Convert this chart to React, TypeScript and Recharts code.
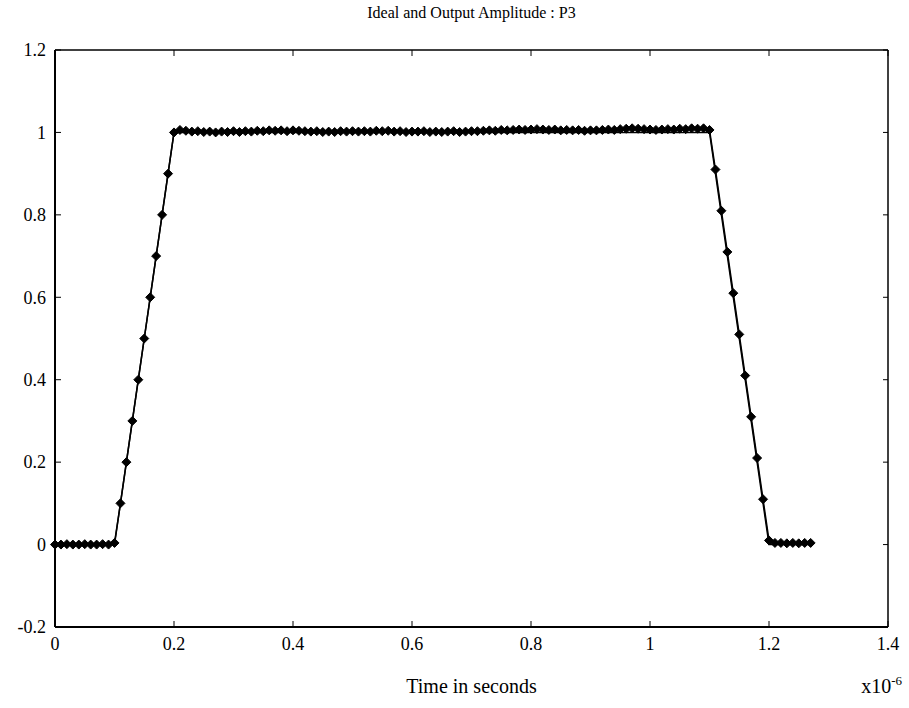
import React from "react";
import { LineChart, Line, XAxis, YAxis } from "recharts";

// time in units of 1e-6 s
const time = [
  0, 0.01, 0.02, 0.03, 0.04, 0.05, 0.06, 0.07, 0.08, 0.09,
  0.1, 0.11, 0.12, 0.13, 0.14, 0.15, 0.16, 0.17, 0.18, 0.19,
  0.2, 0.21, 0.22, 0.23, 0.24, 0.25, 0.26, 0.27, 0.28, 0.29,
  0.3, 0.31, 0.32, 0.33, 0.34, 0.35, 0.36, 0.37, 0.38, 0.39,
  0.4, 0.41, 0.42, 0.43, 0.44, 0.45, 0.46, 0.47, 0.48, 0.49,
  0.5, 0.51, 0.52, 0.53, 0.54, 0.55, 0.56, 0.57, 0.58, 0.59,
  0.6, 0.61, 0.62, 0.63, 0.64, 0.65, 0.66, 0.67, 0.68, 0.69,
  0.7, 0.71, 0.72, 0.73, 0.74, 0.75, 0.76, 0.77, 0.78, 0.79,
  0.8, 0.81, 0.82, 0.83, 0.84, 0.85, 0.86, 0.87, 0.88, 0.89,
  0.9, 0.91, 0.92, 0.93, 0.94, 0.95, 0.96, 0.97, 0.98, 0.99,
  1.0, 1.01, 1.02, 1.03, 1.04, 1.05, 1.06, 1.07, 1.08, 1.09,
  1.1, 1.11, 1.12, 1.13, 1.14, 1.15, 1.16, 1.17, 1.18, 1.19,
  1.2, 1.21, 1.22, 1.23, 1.24, 1.25, 1.26, 1.27,
];

const ideal = [
  0, 0, 0, 0, 0, 0, 0, 0, 0, 0,
  0, 0.1, 0.2, 0.3, 0.4, 0.5, 0.6, 0.7, 0.8, 0.9,
  1, 1, 1, 1, 1, 1, 1, 1, 1, 1,
  1, 1, 1, 1, 1, 1, 1, 1, 1, 1,
  1, 1, 1, 1, 1, 1, 1, 1, 1, 1,
  1, 1, 1, 1, 1, 1, 1, 1, 1, 1,
  1, 1, 1, 1, 1, 1, 1, 1, 1, 1,
  1, 1, 1, 1, 1, 1, 1, 1, 1, 1,
  1, 1, 1, 1, 1, 1, 1, 1, 1, 1,
  1, 1, 1, 1, 1, 1, 1, 1, 1, 1,
  1, 1, 1, 1, 1, 1, 1, 1, 1, 1,
  1, 0.9, 0.8, 0.7, 0.6, 0.5, 0.4, 0.3, 0.2, 0.1,
  0, 0, 0, 0, 0, 0, 0, 0,
];

const output = [
  0, 0, 0.001, 0, 0, 0.001, 0, 0, 0.001, 0,
  0.004, 0.1, 0.2, 0.3, 0.4, 0.5, 0.6, 0.7, 0.8, 0.9,
  1.0, 1.006, 1.004, 1.002, 1.003, 1.001, 1.002, 1.0, 1.002, 1.001,
  1.003, 1.001, 1.003, 1.002, 1.004, 1.003, 1.005, 1.004, 1.005, 1.003,
  1.005, 1.004, 1.003, 1.002, 1.003, 1.001, 1.002, 1.001, 1.003, 1.002,
  1.003, 1.002, 1.003, 1.002, 1.004, 1.003, 1.004, 1.002, 1.003, 1.001,
  1.002, 1.002, 1.003, 1.001, 1.002, 1.001, 1.002, 1.003, 1.001, 1.002,
  1.003, 1.003, 1.004, 1.005, 1.004, 1.006, 1.005, 1.006, 1.007, 1.006,
  1.007, 1.008, 1.007, 1.006, 1.007, 1.005, 1.006, 1.005, 1.006, 1.004,
  1.005, 1.005, 1.006, 1.007, 1.006, 1.008, 1.009, 1.01, 1.009, 1.008,
  1.007, 1.006, 1.007, 1.008, 1.007, 1.009, 1.008, 1.01, 1.009, 1.01,
  1.006, 0.91, 0.81, 0.71, 0.61, 0.51, 0.41, 0.31, 0.21, 0.11,
  0.01, 0.004, 0.004, 0.003, 0.004, 0.003, 0.004, 0.004,
];

const xTicks = [0, 0.2, 0.4, 0.6, 0.8, 1, 1.2, 1.4];
const yTicks = [-0.2, 0, 0.2, 0.4, 0.6, 0.8, 1, 1.2];

const data = time.map((t, i) => ({ t, ideal: ideal[i], output: output[i] }));

const FONT = "'Liberation Serif', 'DejaVu Serif', serif";
const TICK_GAP = 9; // gap between axis line and label
const TICK_LEN = 6; // inward tick length

const fmt = (v: number) => String(Math.round(v * 10) / 10);

// bottom axis: label below, short tick pointing up into the plot
const BottomTick = (props: any) => {
  const { x, y, payload } = props;
  const axisY = y - TICK_GAP;
  return (
    <g>
      <line x1={x} x2={x} y1={axisY} y2={axisY - TICK_LEN} stroke="#000" strokeWidth={1} />
      <text x={x} y={y} dy="0.75em" textAnchor="middle" fill="#000" fontSize={18} fontFamily={FONT}>
        {fmt(payload.value)}
      </text>
    </g>
  );
};

// left axis: label to the left, tick pointing right into the plot
const LeftTick = (props: any) => {
  const { x, y, payload } = props;
  const axisX = x + TICK_GAP;
  return (
    <g>
      <line x1={axisX} x2={axisX + TICK_LEN} y1={y} y2={y} stroke="#000" strokeWidth={1} />
      <text x={x} y={y} dy="0.35em" textAnchor="end" fill="#000" fontSize={18} fontFamily={FONT}>
        {fmt(payload.value)}
      </text>
    </g>
  );
};

// top and right frame axes: tick only
const TopTick = (props: any) => {
  const { x, y } = props;
  return <line x1={x} x2={x} y1={y} y2={y + TICK_LEN} stroke="#000" strokeWidth={1} />;
};
const RightTick = (props: any) => {
  const { x, y } = props;
  return <line x1={x} x2={x - 5} y1={y} y2={y} stroke="#000" strokeWidth={1} />;
};

const Diamond = (props: any) => {
  const { cx, cy } = props;
  if (cx == null || cy == null) return null;
  const r = 4.5;
  return (
    <path
      d={`M${cx},${cy - r}L${cx + r},${cy}L${cx},${cy + r}L${cx - r},${cy}Z`}
      fill="#000"
      stroke="#000"
      strokeWidth={1}
    />
  );
};

export default function App() {
  return (
    <div style={{ position: "absolute", left: 0, top: 0, width: 909, height: 708, background: "#fff" }}>
      <div
        style={{
          position: "absolute",
          left: 55,
          width: 833,
          top: 4,
          textAlign: "center",
          fontFamily: FONT,
          fontSize: 16,
          color: "#000",
        }}
      >
        Ideal and Output Amplitude : P3
      </div>
      <LineChart
        width={909}
        height={708}
        data={data}
        margin={{ top: 50, right: 21, bottom: 51, left: 10 }}
      >
        <XAxis
          dataKey="t"
          type="number"
          domain={[0, 1.4]}
          ticks={xTicks}
          interval={0}
          tickLine={false}
          tickSize={0}
          tickMargin={TICK_GAP}
          height={30}
          axisLine={{ stroke: "#000", strokeWidth: 2 }}
          tick={<BottomTick />}
        />
        <XAxis
          xAxisId="top"
          dataKey="t"
          type="number"
          domain={[0, 1.4]}
          ticks={xTicks}
          interval={0}
          orientation="top"
          mirror
          tickLine={false}
          tickSize={0}
          tickMargin={0}
          tick={<TopTick />}
          axisLine={{ stroke: "#000", strokeWidth: 1.5 }}
        />
        <YAxis
          type="number"
          domain={[-0.2, 1.2]}
          ticks={yTicks}
          interval={0}
          width={45}
          tickLine={false}
          tickSize={0}
          tickMargin={TICK_GAP}
          axisLine={{ stroke: "#000", strokeWidth: 2 }}
          tick={<LeftTick />}
        />
        <YAxis
          yAxisId="right"
          type="number"
          domain={[-0.2, 1.2]}
          ticks={yTicks}
          interval={0}
          orientation="right"
          mirror
          tickLine={false}
          tickSize={0}
          tickMargin={0}
          tick={<RightTick />}
          axisLine={{ stroke: "#000", strokeWidth: 1.5 }}
        />
        <Line
          dataKey="ideal"
          type="linear"
          stroke="#000"
          strokeWidth={1.5}
          dot={false}
          activeDot={false}
          isAnimationActive={false}
        />
        <Line
          dataKey="output"
          type="linear"
          stroke="#000"
          strokeWidth={1.5}
          dot={<Diamond />}
          activeDot={false}
          isAnimationActive={false}
        />
        {/* invisible copy so the frame axes are bound to a series */}
        <Line
          xAxisId="top"
          yAxisId="right"
          dataKey="ideal"
          type="linear"
          stroke="none"
          dot={false}
          activeDot={false}
          legendType="none"
          isAnimationActive={false}
        />
      </LineChart>
      <div
        style={{
          position: "absolute",
          left: 55,
          width: 833,
          top: 675,
          textAlign: "center",
          fontFamily: FONT,
          fontSize: 20,
          color: "#000",
        }}
      >
        Time in seconds
      </div>
      <div
        style={{
          position: "absolute",
          right: 7,
          top: 673,
          fontFamily: FONT,
          fontSize: 20,
          color: "#000",
        }}
      >
        x10<sup style={{ fontSize: 13 }}>-6</sup>
      </div>
    </div>
  );
}
